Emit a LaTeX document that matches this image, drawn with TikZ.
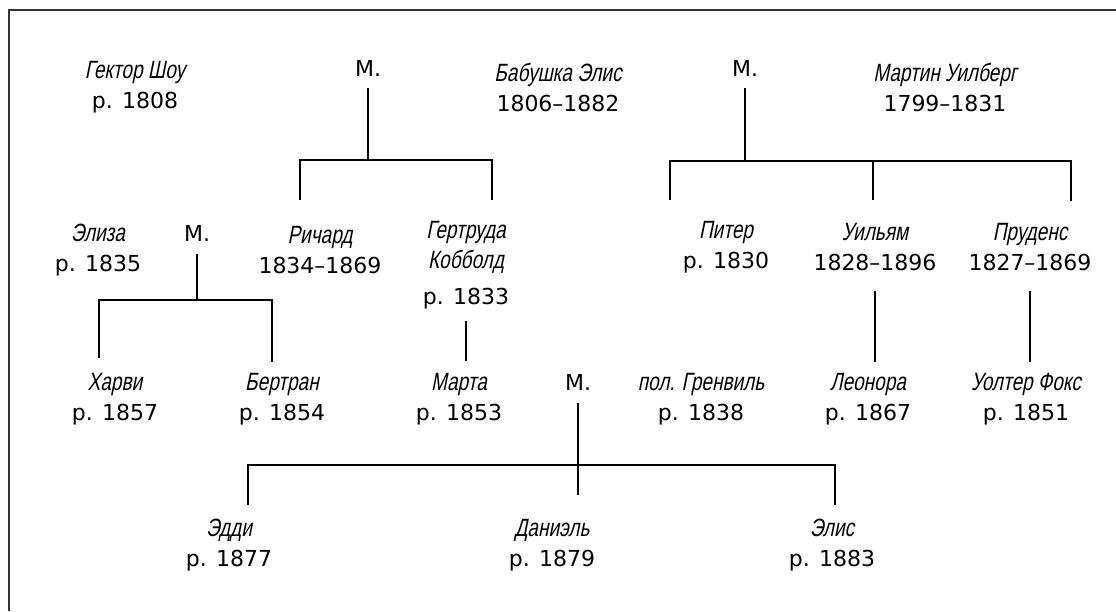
\documentclass[tikz,border=0pt]{standalone}
\usepackage{fontspec}
\setmainfont{DejaVu Sans}
\newfontfamily\namefont[FakeStretch=0.76,FakeSlant=0.2]{Liberation Sans}
\usetikzlibrary{positioning}

\newcommand{\nm}[1]{{\namefont\fontsize{25}{30}\selectfont #1}}

\begin{document}
\begin{tikzpicture}[x=1pt, y=-1pt,
    tie/.style={line width=1.1pt},
    person/.style={align=center, inner sep=0pt, font=\fontsize{22}{30}\selectfont},
    wed/.style={inner sep=0pt, text height=16pt, text depth=0pt, font=\fontsize{22}{30}\selectfont}]
    \useasboundingbox (0,0) rectangle (1116,611);
    \fill[white] (0,0) rectangle (1116,611);

    % Frame (top and left edge only)
    \draw[line width=2.2pt, black!80] (9,611) -- (9,10) -- (1116,10);

    % First generation
    \node[person] (hector) at (135,87) {\nm{Гектор Шоу}\\р. 1808};
    \node[person] (alice)  at (558,87) {\nm{Бабушка Элис}\\1806--1882};
    \node[person] (martin) at (945,87) {\nm{Мартин Уилберг}\\1799--1831};
    \node[wed] (m1) at (368,68) {М.};
    \node[wed] (m2) at (745,68) {М.};

    % Second generation
    \node[person] (eliza)    at (98,250)   {\nm{Элиза}\\р. 1835};
    \node[wed] (m3) at (197,233) {М.};
    \node[person] (richard)  at (320,250)  {\nm{Ричард}\\1834--1869};
    \node[person] (gertrude) at (466,265)  {\nm{Гертруда}\\\nm{Кобболд}\\[6pt]р. 1833};
    \node[person] (peter)    at (726,247)  {\nm{Питер}\\р. 1830};
    \node[person] (william)  at (875,247)  {\nm{Уильям}\\1828--1896};
    \node[person] (prudence) at (1030,247) {\nm{Пруденс}\\1827--1869};

    % Third generation
    \node[person] (harvey)    at (115,399)  {\nm{Харви}\\р. 1857};
    \node[person] (bertrand)  at (282,399)  {\nm{Бертран}\\р. 1854};
    \node[person] (martha)    at (459,399)  {\nm{Марта}\\р. 1853};
    \node[wed] (m4) at (578,382) {М.};
    \node[person] (grenville) at (701,399)  {\nm{пол. Гренвиль}\\р. 1838};
    \node[person] (leonora)   at (868,399)  {\nm{Леонора}\\р. 1867};
    \node[person] (walter)    at (1026,399) {\nm{Уолтер Фокс}\\р. 1851};

    % Fourth generation
    \node[person] (eddie)  at (229,545) {\nm{Эдди}\\р. 1877};
    \node[person] (daniel) at (552,545) {\nm{Даниэль}\\р. 1879};
    \node[person] (elis)   at (832,545) {\nm{Элис}\\р. 1883};

    % Junctions and drop ends
    \coordinate (j1) at (368,160);
    \coordinate (d1a) at (300,200);
    \coordinate (d1b) at (492,200);
    \coordinate (j2) at (745,161);
    \coordinate (d2a) at (670,200);
    \coordinate (d2b) at (873,200);
    \coordinate (d2c) at (1071,201);
    \coordinate (j3) at (197,300);
    \coordinate (d3a) at (99,358);
    \coordinate (d3b) at (272,362);
    \coordinate (j4) at (578,465);
    \coordinate (d4a) at (248,505);
    \coordinate (d4b) at (578,495);
    \coordinate (d4c) at (835,505);

    % Family lines
    \draw[tie, shorten <=12pt] (m1.south) -- (j1);
    \draw[tie] (d1a) |- (j1) -| (d1b);

    \draw[tie, shorten <=12pt] (m2.south) -- (j2);
    \draw[tie] (d2a) |- (j2) -| (d2c);
    \draw[tie] (j2 -| d2b) -- (d2b);

    \draw[tie, shorten <=13pt] (m3.south) -- (j3);
    \draw[tie] (d3a) |- (j3) -| (d3b);

    \draw[tie, shorten <=13pt] (m4.south) -- (d4b);
    \draw[tie] (d4a) |- (j4) -| (d4c);

    % Single descents
    \draw[tie, shorten <=12pt, shorten >=12pt] (gertrude.south) -- (gertrude.south |- martha.north);
    \draw[tie, shorten <=20pt, shorten >=11pt] (william.south) -- (william.south |- leonora.north);
    \draw[tie, shorten <=20pt, shorten >=11pt] (prudence.south) -- (prudence.south |- walter.north);
\end{tikzpicture}
\end{document}
